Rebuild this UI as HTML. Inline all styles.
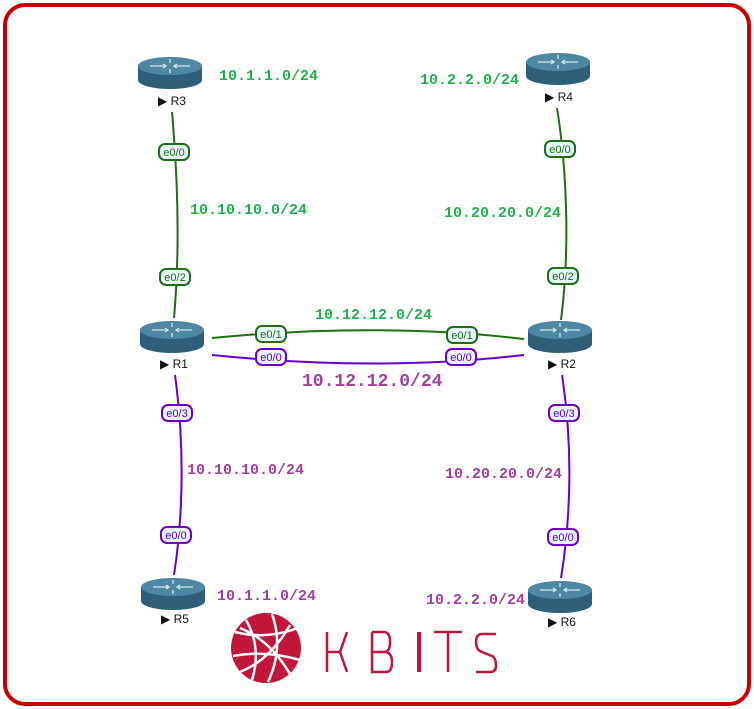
<!DOCTYPE html>
<html><head><meta charset="utf-8"><style>
html,body{margin:0;padding:0;background:#fff}
svg{display:block}
.g{fill:#22b04b;font:bold 15px "Liberation Mono",monospace}
.p{fill:#a040a0;font:bold 15px "Liberation Mono",monospace}
.n{font:12px "Liberation Sans",sans-serif;fill:#111}
.pl{font:11px "Liberation Sans",sans-serif;text-anchor:middle}
</style></head><body>
<svg width="754" height="709" viewBox="0 0 754 709" xmlns="http://www.w3.org/2000/svg">
<defs>
<g id="rt">
<path d="M-32,-6 L-32,8 A32,9 0 0 0 32,8 L32,-6 Z" fill="#2f5f78"/>
<ellipse cx="0" cy="-6" rx="32" ry="9" fill="#4d87a3"/>
<g stroke="#d8e6ee" stroke-width="1.3" fill="none">
<path d="M-20,-6 H-4 M4,-6 H20 M0,-13 V-9 M0,-3 V1"/>
<path d="M-7,-8 L-4,-6 L-7,-4 M7,-8 L4,-6 L7,-4"/>
</g>
</g>
</defs>
<rect x="5" y="5" width="744" height="699" rx="20" fill="none" stroke="#c40000" stroke-width="4"/>

<g fill="none" stroke="#1e6e12" stroke-width="2">
<path d="M172,112 C178,180 180,250 174,318"/>
<path d="M557,108 C567,170 570,250 561,320"/>
<path d="M212,338 Q380,322 524,339"/>
</g>
<g fill="none" stroke="#6a00cc" stroke-width="2">
<path d="M212,355 Q380,372 524,355"/>
<path d="M175,375 C184,440 184,510 174,575"/>
<path d="M562,375 C572,440 572,510 561,578"/>
</g>

<g stroke="#1e6e12" stroke-width="2" fill="#e8f4ff">
<rect x="159" y="144" width="30" height="16" rx="6"/>
<rect x="160" y="269" width="30" height="16" rx="6"/>
<rect x="545" y="141" width="30" height="16" rx="6"/>
<rect x="548" y="268" width="30" height="16" rx="6"/>
<rect x="256" y="326" width="30" height="16" rx="6"/>
<rect x="447" y="327" width="30" height="16" rx="6"/>
</g>
<g stroke="#6a00cc" stroke-width="2" fill="#e8f4ff">
<rect x="256" y="349" width="30" height="16" rx="6"/>
<rect x="446" y="349" width="30" height="16" rx="6"/>
<rect x="162" y="405" width="30" height="16" rx="6"/>
<rect x="161" y="527" width="30" height="16" rx="6"/>
<rect x="549" y="405" width="30" height="16" rx="6"/>
<rect x="548" y="529" width="30" height="16" rx="6"/>
</g>
<g class="pl" fill="#1e6e12">
<text x="174" y="156">e0/0</text><text x="175" y="281">e0/2</text>
<text x="560" y="153">e0/0</text><text x="563" y="280">e0/2</text>
<text x="271" y="338">e0/1</text><text x="462" y="339">e0/1</text>
</g>
<g class="pl" fill="#5a00b0">
<text x="271" y="361">e0/0</text><text x="461" y="361">e0/0</text>
<text x="177" y="417">e0/3</text><text x="176" y="539">e0/0</text>
<text x="564" y="417">e0/3</text><text x="563" y="541">e0/0</text>
</g>

<use href="#rt" x="170" y="72"/><use href="#rt" x="558" y="68"/>
<use href="#rt" x="172" y="336"/><use href="#rt" x="560" y="336"/>
<use href="#rt" x="173" y="593"/><use href="#rt" x="560" y="596"/>
<g class="n">
<text x="158" y="105">▶ R3</text><text x="545" y="101">▶ R4</text>
<text x="160" y="368">▶ R1</text><text x="548" y="368">▶ R2</text>
<text x="161" y="623">▶ R5</text><text x="548" y="626">▶ R6</text>
</g>

<text class="g" x="219" y="80">10.1.1.0/24</text>
<text class="g" x="420" y="84">10.2.2.0/24</text>
<text class="g" x="190" y="214">10.10.10.0/24</text>
<text class="g" x="444" y="217">10.20.20.0/24</text>
<text class="g" x="315" y="319">10.12.12.0/24</text>
<text class="p" x="302" y="386" style="font-size:18px">10.12.12.0/24</text>
<text class="p" x="187" y="474">10.10.10.0/24</text>
<text class="p" x="445" y="478">10.20.20.0/24</text>
<text class="p" x="217" y="600">10.1.1.0/24</text>
<text class="p" x="426" y="604">10.2.2.0/24</text>

<circle cx="266" cy="648" r="35" fill="#c0163a"/>
<g fill="none" stroke="#fff" stroke-width="2.5">
<path d="M235,632 Q266,640 298,628"/>
<path d="M233,656 Q266,650 300,660"/>
<path d="M246,620 Q262,648 252,680"/>
<path d="M272,614 Q284,648 268,682"/>
<path d="M290,625 Q270,660 240,672"/>
<path d="M240,628 Q270,640 290,674"/>
</g>
<g stroke="#c0163a" fill="none" stroke-width="2.5">
<path d="M327,632 V672 M327,652 H340 L347,632 M340,652 L347,672"/>
<path d="M372,632 V672 H386 Q392,672 392,662 Q392,652 384,652 H372 M372,632 H384 Q390,632 390,642 Q390,652 384,652"/>
<path d="M419,632 V672" stroke-width="4"/>
<path d="M434,632 H462 M448,632 V672"/>
<path d="M496,634 H482 Q476,634 476,642 Q476,650 482,652 L492,656 Q496,658 496,666 Q496,672 490,672 H476"/>
</g>
</svg>
</body></html>
